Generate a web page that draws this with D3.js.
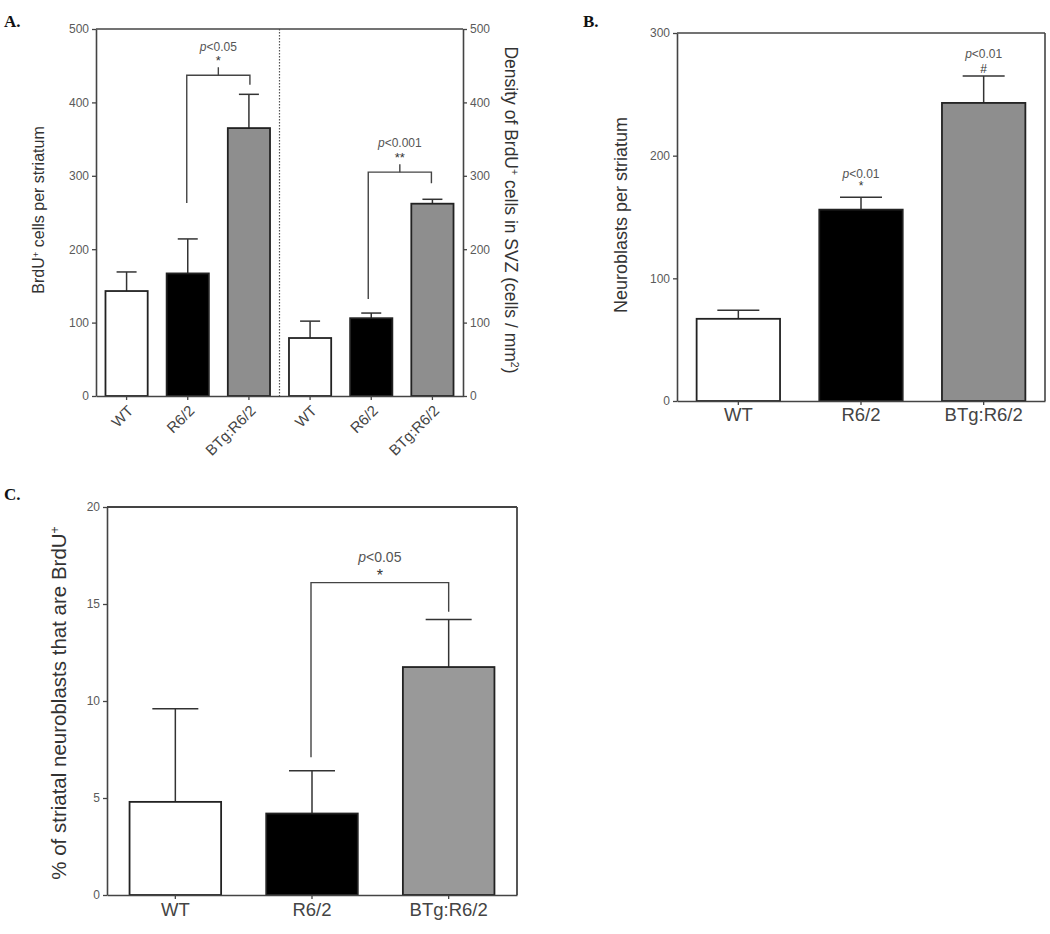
<!DOCTYPE html>
<html><head><meta charset="utf-8">
<script src="https://cdn.jsdelivr.net/npm/d3@7"></script>
<style>body{margin:0;background:#fff}svg{display:block}</style>
</head><body>
<svg id="c" width="1050" height="934"></svg>
<script>
const categories = ["WT", "R6/2", "BTg:R6/2"];
const fills = ["#ffffff", "#000000", "#8e8e8e"];
const fillsC = ["#ffffff", "#000000", "#999999"];
// Panel A left: BrdU+ cells per striatum
const aStriatumMean = [143, 167, 365];
const aStriatumSem = [26, 47, 46];
// Panel A right: density in SVZ
const aSvzMean = [79, 106, 262];
const aSvzSem = [23, 7, 6];
// Panel B: neuroblasts per striatum
const bMean = [67, 156, 243];
const bSem = [7, 10, 22];
// Panel C: % neuroblasts BrdU+
const cMean = [4.8, 4.2, 11.75];
const cSem = [4.8, 2.2, 2.45];
const aTicks = [0, 100, 200, 300, 400, 500];
const bTicks = [0, 100, 200, 300];
const cTicks = [0, 5, 10, 15, 20];

const svg = d3.select("#c");
const FONT = "Liberation Sans, Arial, sans-serif";
const TICKC = "#5a5a5a";
const LINEC = "#444";

function panelLetter(t, x, y) {
  svg.append("text").attr("x", x).attr("y", y).text(t)
    .attr("font-family", "Liberation Serif, Times New Roman, serif")
    .attr("font-weight", "bold").attr("font-size", 17).attr("fill", "#111");
}

function styleAxis(g, fs) {
  g.selectAll("path").attr("stroke", LINEC).attr("stroke-width", 1.6);
  g.selectAll("line").attr("stroke", LINEC).attr("stroke-width", 1.3);
  g.selectAll("text").attr("font-family", FONT).attr("font-size", fs).attr("fill", TICKC);
}

function drawBars(g, x, y, keys, means, sems, sw, capHalf, pal) {
  keys.forEach((k, i) => {
    const bx = x(k), bw = x.bandwidth();
    const cx = bx + bw / 2;
    g.append("line").attr("x1", cx).attr("x2", cx).attr("y1", y(means[i])).attr("y2", y(means[i] + sems[i]))
      .attr("stroke", "#333").attr("stroke-width", 1.5);
    g.append("line").attr("x1", cx - capHalf).attr("x2", cx + capHalf)
      .attr("y1", y(means[i] + sems[i])).attr("y2", y(means[i] + sems[i]))
      .attr("stroke", "#333").attr("stroke-width", 1.5);
    g.append("rect").attr("x", bx).attr("width", bw).attr("y", y(means[i]))
      .attr("height", y(0) - y(means[i])).attr("fill", pal[i % 3])
      .attr("stroke", "#222").attr("stroke-width", sw);
  });
}

// annotation: star centre at yTop - starGap, p-text centre at star centre - pGap
function annot(g, cx, yTop, starGap, pGap, star, ptxt, fsP, fsS) {
  const starC = yTop - starGap;
  g.append("text").attr("x", cx).attr("y", starC + fsS * 0.55).attr("text-anchor", "middle")
    .attr("font-family", FONT).attr("font-size", fsS).attr("fill", "#333").text(star);
  const pC = starC - pGap;
  const t = g.append("text").attr("x", cx).attr("y", pC + fsP * 0.36).attr("text-anchor", "middle")
    .attr("font-family", FONT).attr("font-size", fsP).attr("fill", "#555");
  t.append("tspan").attr("font-style", "italic").text("p");
  t.append("tspan").text(ptxt);
}

function bracket(g, x1, x2, yTop, yL, yR, tickUp, starGap, pGap, star, ptxt, fsP, fsS) {
  const p = d3.path();
  p.moveTo(x1, yL); p.lineTo(x1, yTop); p.lineTo(x2, yTop); p.lineTo(x2, yR);
  g.append("path").attr("d", p.toString()).attr("fill", "none").attr("stroke", "#444").attr("stroke-width", 1.4);
  const mx = (x1 + x2) / 2;
  if (tickUp > 0) g.append("line").attr("x1", mx).attr("x2", mx).attr("y1", yTop).attr("y2", yTop - tickUp)
    .attr("stroke", "#444").attr("stroke-width", 1.4);
  annot(g, mx, yTop - tickUp, starGap, pGap, star, ptxt, fsP, fsS);
}

function yLabel(x, y, rot, parts, fs) {
  const t = svg.append("text").attr("transform", `translate(${x},${y}) rotate(${rot})`)
    .attr("text-anchor", "middle").attr("font-family", FONT).attr("font-size", fs).attr("fill", "#333");
  parts.forEach(p => {
    const s = t.append("tspan").text(p.t);
    if (p.sup) s.attr("baseline-shift", "super").attr("font-size", fs * 0.6);
  });
}

// ---------------- Panel A ----------------
panelLetter("A.", 4, 27);
{
  const L = 96, R = 463, T = 29, B = 396;
  const aKeys = ["WT1", "R62a", "BTg1", "WT2", "R62b", "BTg2"];
  const aLabels = categories.concat(categories);
  const x = d3.scaleBand().domain(aKeys).range([L, R]).paddingInner(0.31).paddingOuter(0.155);
  const y = d3.scaleLinear().domain([0, 500]).range([B, T]);
  const g = svg.append("g");
  const midX = (x("BTg1") + x.bandwidth() + x("WT2")) / 2;
  g.append("line").attr("x1", midX).attr("x2", midX).attr("y1", T).attr("y2", B)
    .attr("stroke", "#555").attr("stroke-width", 1.2).attr("stroke-dasharray", "1.5,1.5");
  drawBars(g, x, y, aKeys.slice(0, 3), aStriatumMean, aStriatumSem, 1.8, 10, fills);
  drawBars(g, x, y, aKeys.slice(3), aSvzMean, aSvzSem, 1.8, 10, fills);
  g.append("line").attr("x1", L).attr("x2", R).attr("y1", T).attr("y2", T).attr("stroke", LINEC).attr("stroke-width", 1.6);
  const ax = g.append("g").attr("transform", `translate(0,${B})`)
    .call(d3.axisBottom(x).tickSize(4).tickSizeOuter(0).tickFormat((d, i) => aLabels[i]));
  styleAxis(ax, 15);
  ax.selectAll("text").attr("text-anchor", "end").attr("fill", "#444")
    .attr("y", 0).attr("dy", "0.35em").attr("transform", "translate(4,12) rotate(-45)");
  const ay = g.append("g").attr("transform", `translate(${L},0)`)
    .call(d3.axisLeft(y).tickValues(aTicks).tickSize(4).tickSizeOuter(0));
  styleAxis(ay, 12);
  const ay2 = g.append("g").attr("transform", `translate(${R},0)`)
    .call(d3.axisRight(y).tickValues(aTicks).tickSize(4).tickSizeOuter(0));
  styleAxis(ay2, 12);
  const c = k => x(k) + x.bandwidth() / 2;
  bracket(g, c("R62a") - 1, c("BTg1") + 1, y(437), y(263), y(424), 8, 9, 12, "*", "<0.05", 12, 13);
  bracket(g, c("R62b") - 3, c("BTg2") - 1, y(305), y(132), y(290), 8, 9, 12, "**", "<0.001", 12, 13);
  yLabel(44, 210, -90, [{t: "BrdU"}, {t: "+", sup: true}, {t: " cells per striatum"}], 16);
  yLabel(505, 210, 90, [{t: "Density of BrdU"}, {t: "+", sup: true}, {t: " cells in SVZ (cells / mm"}, {t: "2", sup: true}, {t: ")"}], 17.5);
}

// ---------------- Panel B ----------------
panelLetter("B.", 583, 27);
{
  const L = 677, R = 1045, T = 33, B = 401;
  const x = d3.scaleBand().domain(categories).range([L, R]).paddingInner(0.32).paddingOuter(0.16);
  const y = d3.scaleLinear().domain([0, 300]).range([B, T]);
  const g = svg.append("g");
  drawBars(g, x, y, categories, bMean, bSem, 1.8, 21, fills);
  g.append("line").attr("x1", L).attr("x2", R).attr("y1", T).attr("y2", T).attr("stroke", LINEC).attr("stroke-width", 1.6);
  g.append("line").attr("x1", R).attr("x2", R).attr("y1", T).attr("y2", B).attr("stroke", LINEC).attr("stroke-width", 1.6);
  const ax = g.append("g").attr("transform", `translate(0,${B})`)
    .call(d3.axisBottom(x).tickSize(4).tickSizeOuter(0));
  styleAxis(ax, 18.5);
  ax.selectAll("text").attr("fill", "#444").attr("y", 3).attr("dy", "0.9em");
  const ay = g.append("g").attr("transform", `translate(${L},0)`)
    .call(d3.axisLeft(y).tickValues(bTicks).tickSize(4).tickSizeOuter(0));
  styleAxis(ay, 12);
  const c = k => x(k) + x.bandwidth() / 2;
  annot(g, c("R6/2"), y(bMean[1] + bSem[1]), 14, 10, "*", "<0.01", 12, 12);
  annot(g, c("BTg:R6/2"), y(bMean[2] + bSem[2]), 10, 12, "#", "<0.01", 12, 12);
  yLabel(627, 215, -90, [{t: "Neuroblasts per striatum"}], 18);
}

// ---------------- Panel C ----------------
panelLetter("C.", 4, 500);
{
  const L = 107, R = 517, T = 507, B = 895;
  const x = d3.scaleBand().domain(categories).range([L, R]).paddingInner(0.33).paddingOuter(0.165);
  const y = d3.scaleLinear().domain([0, 20]).range([B, T]);
  const g = svg.append("g");
  drawBars(g, x, y, categories, cMean, cSem, 1.8, 23, fillsC);
  g.append("line").attr("x1", L).attr("x2", R).attr("y1", T).attr("y2", T).attr("stroke", LINEC).attr("stroke-width", 1.8);
  g.append("line").attr("x1", R).attr("x2", R).attr("y1", T).attr("y2", B).attr("stroke", LINEC).attr("stroke-width", 1.8);
  const ax = g.append("g").attr("transform", `translate(0,${B})`)
    .call(d3.axisBottom(x).tickSize(4).tickSizeOuter(0));
  styleAxis(ax, 18.5);
  ax.selectAll("text").attr("fill", "#444").attr("y", 3).attr("dy", "0.95em");
  const ay = g.append("g").attr("transform", `translate(${L},0)`)
    .call(d3.axisLeft(y).tickValues(cTicks).tickSize(4).tickSizeOuter(0));
  styleAxis(ay, 12);
  const c = k => x(k) + x.bandwidth() / 2;
  bracket(g, c("R6/2") - 1, c("BTg:R6/2"), y(16.1), y(7.1), y(14.6), 0, 10, 16, "*", "<0.05", 14, 16);
  yLabel(66, 703, -90, [{t: "% of striatal neuroblasts that are BrdU"}, {t: "+", sup: true}], 20.5);
}
</script>
</body></html>
